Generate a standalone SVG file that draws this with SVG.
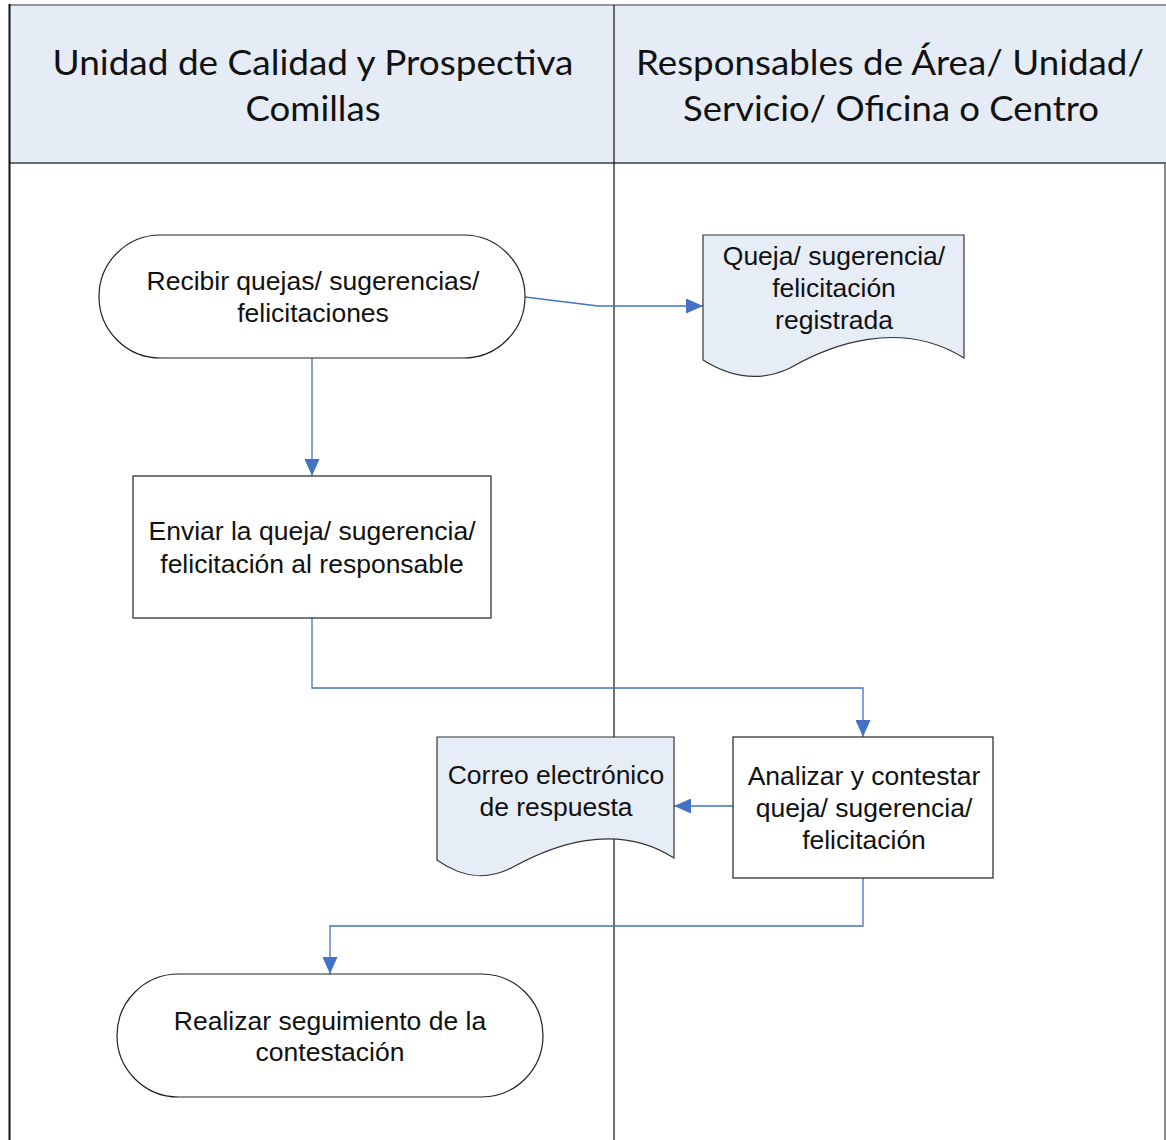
<svg xmlns="http://www.w3.org/2000/svg" width="1166" height="1140" viewBox="0 0 1166 1140">
<style>
.hdr{font-family:Lato,"Open Sans","Noto Sans",sans-serif;font-size:35px;fill:#111;text-anchor:middle}
.lbl{font-family:"Liberation Sans",Arial,sans-serif;font-size:26.5px;fill:#111;text-anchor:middle}
.shape{stroke:#222;stroke-width:1.2;fill:#fff}
.doc{stroke:#333;stroke-width:1.2;fill:#E7EDF7}
.conn{stroke:#4472C4;stroke-width:1.3;fill:none}
</style>
<defs>
<marker id="arr" viewBox="0 0 17 15" refX="17" refY="7.5" markerWidth="17" markerHeight="15" markerUnits="userSpaceOnUse" orient="auto">
<path d="M0,0 L17,7.5 L0,15 Z" fill="#4472C4"/>
</marker>
</defs>
<rect width="1166" height="1140" fill="#fff"/>
<g id="lanes">
<rect x="9" y="5" width="1157" height="158" fill="#E6ECF6"/>
<line x1="9" y1="5" x2="1166" y2="5" stroke="#777" stroke-width="1.5"/>
<line x1="9" y1="163" x2="1166" y2="163" stroke="#6a6a6a" stroke-width="2"/>
<line x1="9.5" y1="4" x2="9.5" y2="1140" stroke="#111" stroke-width="2"/>
<line x1="614" y1="5" x2="614" y2="1140" stroke="#111" stroke-width="1.2"/>
<line x1="1165" y1="163" x2="1165" y2="1140" stroke="#666" stroke-width="1.5"/>
<text class="hdr" x="313" y="75" textLength="521" lengthAdjust="spacingAndGlyphs">Unidad de Calidad y Prospectiva</text>
<text class="hdr" x="313" y="121" textLength="135" lengthAdjust="spacingAndGlyphs">Comillas</text>
<text class="hdr" x="890" y="75" textLength="508" lengthAdjust="spacingAndGlyphs">Responsables de Área/ Unidad/</text>
<text class="hdr" x="891" y="121" textLength="416" lengthAdjust="spacingAndGlyphs">Servicio/ Oficina o Centro</text>
</g>
<g id="connectors">
<polyline class="conn" points="525,297 598,306 703,306" marker-end="url(#arr)"/>
<line class="conn" x1="312" y1="358" x2="312" y2="476" marker-end="url(#arr)"/>
<polyline class="conn" points="312,618 312,688 863,688 863,737" marker-end="url(#arr)"/>
<line class="conn" x1="733" y1="806" x2="674" y2="806" marker-end="url(#arr)"/>
<polyline class="conn" points="863,878 863,926 330,926 330,974" marker-end="url(#arr)"/>
</g>
<g id="n1">
<rect class="shape" x="99" y="235" width="426" height="123" rx="61.5" ry="61.5"/>
<text class="lbl" x="313" y="290">Recibir quejas/ sugerencias/</text>
<text class="lbl" x="313" y="322">felicitaciones</text>
</g>
<g id="n2">
<path class="doc" d="M703,235 H964 V358 C900,318 830,345 790,368 C765,380 735,380 703,360 Z"/>
<text class="lbl" x="834" y="265">Queja/ sugerencia/</text>
<text class="lbl" x="834" y="297">felicitación</text>
<text class="lbl" x="834" y="329">registrada</text>
</g>
<g id="n3">
<rect class="shape" x="133" y="476" width="358" height="142"/>
<text class="lbl" x="312" y="540">Enviar la queja/ sugerencia/</text>
<text class="lbl" x="312" y="573">felicitación al responsable</text>
</g>
<g id="n4">
<path class="doc" d="M437,737 H674 V858 C615,820 550,847 515,866 C490,880 465,880 437,860 Z"/>
<text class="lbl" x="556" y="784">Correo electrónico</text>
<text class="lbl" x="556" y="816">de respuesta</text>
</g>
<g id="n5">
<rect class="shape" x="733" y="737" width="260" height="141"/>
<text class="lbl" x="864" y="785">Analizar y contestar</text>
<text class="lbl" x="864" y="817">queja/ sugerencia/</text>
<text class="lbl" x="864" y="849">felicitación</text>
</g>
<g id="n6">
<rect class="shape" x="117" y="974" width="426" height="123" rx="61.5" ry="61.5"/>
<text class="lbl" x="330" y="1030">Realizar seguimiento de la</text>
<text class="lbl" x="330" y="1061">contestación</text>
</g>
</svg>
